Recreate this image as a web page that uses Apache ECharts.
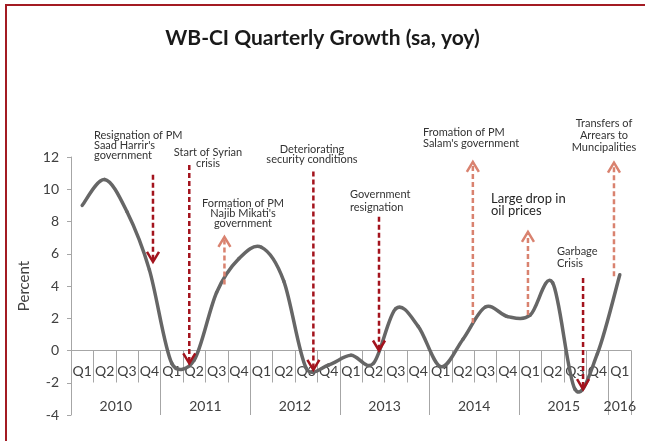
<!DOCTYPE html>
<html><head><meta charset="utf-8">
<script src="https://cdn.jsdelivr.net/npm/echarts@6/dist/echarts.min.js"></script>
<style>html,body{margin:0;padding:0;background:#fff}#c{width:645px;height:441px}</style>
</head><body><div id="c"></div>
<script>
// ---- data ----
const quarterLabels = ['Q1','Q2','Q3','Q4','Q1','Q2','Q3','Q4','Q1','Q2','Q3','Q4','Q1','Q2','Q3','Q4','Q1','Q2','Q3','Q4','Q1','Q2','Q3','Q4','Q1'];
const yearLabels = ['2010','2011','2012','2013','2014','2015','2016'];
const quartersPerYear = [4,4,4,4,4,4,1];
const growth = [9.0, 10.6, 8.6, 5.0, -0.8, -0.6, 3.6, 5.7, 6.4, 4.3, -1.1, -0.9, -0.3, -0.8, 2.6, 1.5, -1.0, 0.7, 2.7, 2.1, 2.2, 4.2, -2.4, -0.2, 4.7];
const yTicks = [-4, -2, 0, 2, 4, 6, 8, 10, 12];
// event arrows: position in quarter index, start value, end value, kind (0 = negative event, 1 = positive event)
const arrowPos   = [3.16, 4.78, 6.35, 10.32, 13.25, 17.44, 19.9, 22.36, 23.74];
const arrowFrom  = [10.9, 11.5, 4.1, 11.1, 8.3, 1.7, 2.2, 4.5, 4.6];
const arrowTo    = [5.5, -0.8, 7.05, -1.2, 0.0, 11.7, 7.35, -2.4, 11.65];
const arrowKind  = [0, 0, 1, 0, 0, 1, 1, 0, 1];
const eventTexts = [
  "Resignation of PM\nSaad Harrir's\ngovernment",
  "Start of Syrian\ncrisis",
  "Formation of PM\nNajib Mikati's\ngovernment",
  "Deteriorating\nsecurity conditions",
  "Government\nresignation",
  "Fromation of PM\nSalam's government",
  "Large drop in\noil prices",
  "Garbage\nCrisis",
  "Transfers of\nArrears to\nMuncipalities"
];

// ---- layout (styles/positions) ----
const textLayout = [
  {x: 94,  y: 130, align: 'left',   lh: 10, fs: 11},
  {x: 208, y: 147, align: 'center', lh: 11, fs: 11},
  {x: 243, y: 198, align: 'center', lh: 10, fs: 11},
  {x: 312, y: 144, align: 'center', lh: 10, fs: 11},
  {x: 350, y: 188, align: 'left',   lh: 13, fs: 11},
  {x: 423, y: 127, align: 'left',   lh: 11, fs: 11},
  {x: 491, y: 193, align: 'left',   lh: 12, fs: 13},
  {x: 557, y: 245, align: 'left',   lh: 12, fs: 11},
  {x: 604, y: 117, align: 'center', lh: 12, fs: 11}
];
const DARK = '#a3131d', LIGHT = '#d9826f', AXIS = '#a6a6a6', TXT = '#404040', LINE = '#666666';
const FONT = 'Lato, "Open Sans", sans-serif';

// year axis on half-quarter grid
const nHalf = quarterLabels.length * 2;
const yearCats = new Array(nHalf + 1).fill('');
const yearBounds = new Set([nHalf]);
let s = 0;
quartersPerYear.forEach((n, i) => { yearBounds.add(s * 2); yearCats[s * 2 + n] = yearLabels[i]; s += n; });

const chart = echarts.init(document.getElementById('c'));
const graphics = [
  {type: 'line', shape: {x1: 5, y1: 5, x2: 645, y2: 5}, style: {stroke: '#a31b23', lineWidth: 2}},
  {type: 'line', shape: {x1: 6, y1: 5, x2: 6, y2: 441}, style: {stroke: '#a31b23', lineWidth: 2}}
];
eventTexts.forEach((t, i) => {
  const L = textLayout[i];
  graphics.push({type: 'text', x: L.x, y: L.y, z: 10,
    style: {text: t, x: 0, y: 0, align: L.align, verticalAlign: 'top', lineHeight: L.lh,
      font: L.fs + 'px ' + FONT, fill: i === 6 ? '#262626' : '#333333'}});
});

// Excel-like smoothed segment (capped Catmull-Rom Bezier) in pixel space
function segControls(p0, p1, p2, p3) {
  const d = (a, b) => Math.hypot(a[0] - b[0], a[1] - b[1]);
  const d02 = d(p0, p2), d12 = d(p1, p2), d13 = d(p1, p3);
  let f1 = 1 / 6, f2 = 1 / 6;
  if (d02 / 6 >= d12 / 2 && d02 > 0) f1 = d12 / (2 * d02);
  if (d13 / 6 >= d12 / 2 && d13 > 0) f2 = d12 / (2 * d13);
  return [[p1[0] + f1 * (p2[0] - p0[0]), p1[1] + f1 * (p2[1] - p0[1])],
          [p2[0] - f2 * (p3[0] - p1[0]), p2[1] - f2 * (p3[1] - p1[1])]];
}

chart.setOption({
  animation: false,
  backgroundColor: '#fff',
  title: {text: 'WB-CI Quarterly Growth (sa, yoy)', left: 'center', top: 23,
    textStyle: {fontFamily: FONT, fontWeight: 'bold', fontSize: 21, color: '#1a1a1a'}},
  graphic: graphics,
  grid: {left: 71, right: 14, top: 157, bottom: 26, containLabel: false},
  xAxis: [
    {type: 'category', data: quarterLabels, boundaryGap: true, position: 'bottom', offset: -64.5,
      axisLine: {onZero: false, lineStyle: {color: AXIS, width: 1}},
      axisTick: {show: true, interval: 0, length: 32, inside: false, lineStyle: {color: AXIS}},
      axisLabel: {interval: 0, margin: 14, fontFamily: FONT, fontSize: 14, color: TXT, hideOverlap: false},
      splitLine: {show: false}},
    {type: 'category', data: yearCats, boundaryGap: false, position: 'bottom',
      axisLine: {show: false, onZero: false},
      axisTick: {show: true, inside: true, length: 64, interval: (i) => yearBounds.has(i), lineStyle: {color: AXIS}},
      axisLabel: {inside: true, margin: 2, interval: (i, v) => v !== '', fontFamily: FONT, fontSize: 14, color: TXT},
      splitLine: {show: false}},
    {type: 'value', min: -0.5, max: quarterLabels.length - 0.5, position: 'top', show: false}
  ],
  yAxis: [{type: 'value', min: yTicks[0], max: yTicks[yTicks.length - 1], interval: 2,
    name: 'Percent', nameLocation: 'middle', nameGap: 31,
    nameTextStyle: {fontFamily: FONT, fontSize: 15, color: TXT},
    axisLine: {show: true, onZero: false, lineStyle: {color: AXIS}},
    axisTick: {show: true, length: 4, lineStyle: {color: AXIS}},
    axisLabel: {margin: 12, fontFamily: FONT, fontSize: 14, color: TXT},
    splitLine: {show: false}}],
  series: [
    {type: 'custom', name: 'WB-CI growth', xAxisIndex: 2, yAxisIndex: 0, z: 3, clip: false,
      data: growth.map((v, i) => [i, v]),
      encode: {x: 0, y: 1},
      renderItem: function (params, api) {
        const i = params.dataIndex, n = growth.length;
        if (i >= n - 1) return null;
        const P = (k) => api.coord([Math.max(0, Math.min(n - 1, k)), growth[Math.max(0, Math.min(n - 1, k))]]);
        const p0 = P(i - 1), p1 = P(i), p2 = P(i + 1), p3 = P(i + 2);
        const c = segControls(p0, p1, p2, p3);
        return {type: 'bezierCurve',
          shape: {x1: p1[0], y1: p1[1], x2: p2[0], y2: p2[1], cpx1: c[0][0], cpy1: c[0][1], cpx2: c[1][0], cpy2: c[1][1]},
          style: {stroke: LINE, lineWidth: 3.5, fill: null, lineCap: 'round'}};
      }},
    {type: 'custom', xAxisIndex: 2, yAxisIndex: 0, z: 5, clip: false,
      data: arrowPos.map((p, i) => [p, arrowFrom[i], arrowTo[i], arrowKind[i]]),
      encode: {x: 0, y: [1, 2]},
      renderItem: function (params, api) {
        const x = api.value(0), a = api.value(1), b = api.value(2), k = api.value(3);
        const p0 = api.coord([x, a]), p1 = api.coord([x, b]);
        const color = k === 0 ? DARK : LIGHT;
        const dir = p1[1] > p0[1] ? 1 : -1;
        return {type: 'group', children: [
          {type: 'line', shape: {x1: p0[0], y1: p0[1], x2: p1[0], y2: p1[1] - dir * 1},
            style: {stroke: color, lineWidth: 2.5, lineDash: [5, 3]}},
          {type: 'polyline', shape: {points: [[p1[0] - 6, p1[1] - dir * 10], [p1[0], p1[1]], [p1[0] + 6, p1[1] - dir * 10]]},
            style: {stroke: color, lineWidth: 2.5, fill: null}}
        ]};
      }}
  ]
});
</script></body></html>
